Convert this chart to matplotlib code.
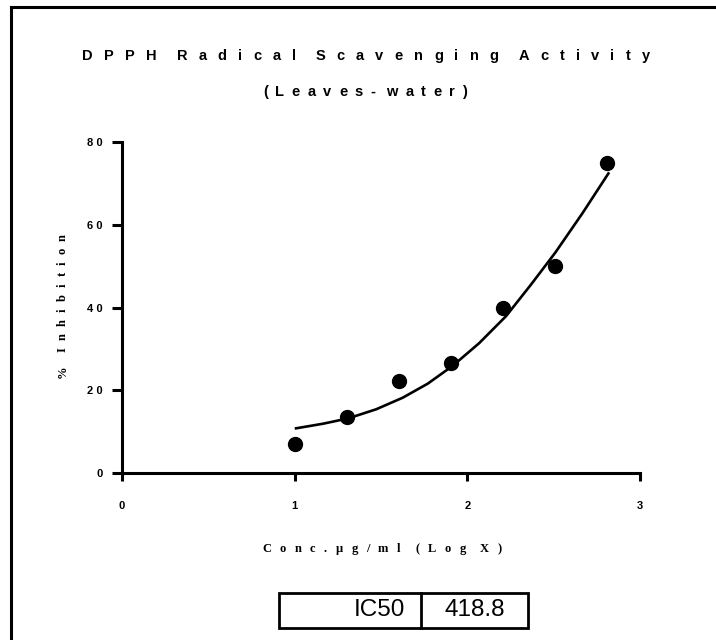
import matplotlib
matplotlib.use("Agg")
import matplotlib.pyplot as plt
from matplotlib.lines import Line2D
from matplotlib.patches import Rectangle

# Données (Log X)
log_conc = [1.0, 1.301, 1.602, 1.903, 2.204, 2.505, 2.806]
inhibition = [7.0, 13.6, 22.3, 26.5, 40.0, 50.0, 75.0]

# Courbe ajustée
fit_x = [1.008, 1.163, 1.31, 1.472, 1.626, 1.771, 1.915, 2.069, 2.224, 2.368, 2.51, 2.667, 2.817]
fit_y = [10.8, 11.9, 13.2, 15.4, 18.2, 21.6, 25.9, 31.4, 37.9, 45.5, 53.3, 62.8, 72.4]

x_ticks = [0, 1, 2, 3]
y_ticks = [0, 20, 40, 60, 80]

title_1 = "DPPH Radical Scavenging Activity"
title_2 = "(Leaves- water)"
x_label = "Conc.µg/ml (Log X)"
y_label = "% Inhibition"

ic50_label = "IC50"
ic50_value = 418.8

W, H = 716, 640


def fx(px):
    return px / W


def fy(py):
    return 1 - py / H


fig = plt.figure(figsize=(W / 100, H / 100), dpi=100)
renderer = fig.canvas.get_renderer()


def char_width(ch, **kw):
    t = fig.text(0, 0, ch, **kw)
    w = t.get_window_extent(renderer).width
    t.remove()
    return w


def spaced_text(s, center, base, gap, word_gap, vertical=False, **kw):
    """Texte avec espacement des lettres (comme dans l'original)."""
    items = []
    for ch in s:
        if ch == " ":
            items.append((None, word_gap - 2 * gap))
        else:
            items.append((ch, char_width(ch, **kw)))
    total = sum(w for _, w in items) + gap * (len(items) - 1)
    pos = center - total / 2
    for ch, w in items:
        if ch is not None:
            if vertical:
                # de bas en haut
                fig.text(fx(base), fy(2 * center - pos), ch, rotation=90, rotation_mode="anchor",
                         ha="left", va="baseline", **kw)
            else:
                fig.text(fx(pos), fy(base), ch, ha="left", va="baseline", **kw)
        pos += w + gap


ax = fig.add_axes([fx(122), fy(473), fx(640) - fx(122), fy(142) - fy(473)])

ax.plot(fit_x, fit_y, color="black", lw=1.9, zorder=2)
ax.plot(log_conc, inhibition, "o", color="black", ms=10, zorder=3)

ax.set_xlim(0, 3)
ax.set_ylim(0, 80)
ax.set_xticks(x_ticks)
ax.set_yticks(y_ticks)
ax.set_xticklabels([" ".join(str(t)) for t in x_ticks], fontfamily="Liberation Sans",
                   fontweight="bold", fontsize=8)
ax.set_yticklabels([" ".join(str(t)) for t in y_ticks], fontfamily="Liberation Sans",
                   fontweight="bold", fontsize=8)
ax.tick_params(axis="y", direction="out", length=7, width=2.2, pad=7)
ax.tick_params(axis="x", direction="out", length=6, width=2.2, pad=14)
for side in ["top", "right"]:
    ax.spines[side].set_visible(False)
for side in ["left", "bottom"]:
    ax.spines[side].set_linewidth(2.2)
    ax.spines[side].set_capstyle("projecting")

sans = dict(fontfamily="Liberation Sans", fontweight="bold", fontsize=10.5)
serif = dict(fontfamily="Liberation Serif", fontweight="bold", fontsize=9)

# Titre
spaced_text(title_1, 366, 60, 11.2, 20, **sans)
spaced_text(title_2, 365, 96, 7.5, 11, **sans)

# Libellés des axes
spaced_text(x_label, 382, 552, 8.5, 14.5, **serif)
spaced_text(y_label, 306, 66, 7.2, 14, vertical=True, **serif)

# Tableau IC50
x0, x1, x2 = 279, 421, 528
y0, y1 = 593, 628
fig.add_artist(Rectangle((fx(x0), fy(y1)), fx(x2) - fx(x0), fy(y0) - fy(y1),
                         transform=fig.transFigure, fill=False, lw=2, ec="black"))
fig.add_artist(Line2D([fx(x1), fx(x1)], [fy(y1), fy(y0)], transform=fig.transFigure,
                      color="black", lw=2))
fig.text(fx(x1 - 16), fy((y0 + y1) / 2), ic50_label, ha="right", va="center",
         fontfamily="Liberation Sans", fontsize=17.5)
fig.text(fx((x1 + x2) / 2), fy((y0 + y1) / 2), f"{ic50_value}", ha="center", va="center",
         fontfamily="Liberation Sans", fontsize=17.5)

# Cadre (haut et gauche)
fig.add_artist(Line2D([fx(11), 1], [fy(7), fy(7)], transform=fig.transFigure, color="black", lw=2.2))
fig.add_artist(Line2D([fx(11), fx(11)], [0, fy(7)], transform=fig.transFigure, color="black", lw=2.2))

fig.savefig("out.png", dpi=100)
